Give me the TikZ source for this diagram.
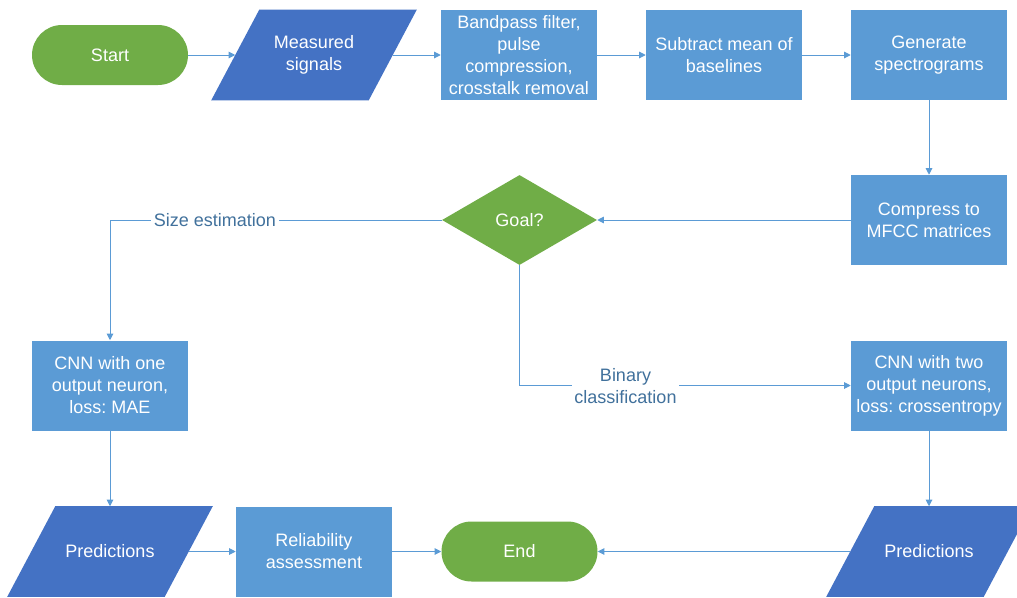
\documentclass[tikz,border=0pt]{standalone}
\usepackage{fontspec}
\setmainfont{Liberation Sans}
\usetikzlibrary{shapes.geometric,arrows.meta,backgrounds}
\definecolor{cgreen}{HTML}{70AD47}
\definecolor{cdblue}{HTML}{4472C4}
\definecolor{clblue}{HTML}{5B9BD5}
\definecolor{clabel}{HTML}{41719C}
\frenchspacing
\begin{document}
\begin{tikzpicture}[x=0.75pt,y=-0.75pt,
 every node/.style={font=\fontsize{13.5}{16.5}\selectfont, text=white, align=center, inner sep=0pt},
 box/.style={rectangle, fill=clblue, minimum width=117pt, minimum height=67.5pt},
 term/.style={rectangle, rounded corners=22.5pt, fill=cgreen, minimum width=117pt, minimum height=45pt},
 para/.style={rectangle, minimum width=117.75pt, minimum height=67.5pt},
 dec/.style={diamond, fill=cgreen, minimum width=116.25pt, minimum height=67.5pt},
 conn/.style={draw=clblue, line width=0.75pt, -{Triangle[length=5pt,width=5pt]}},
 lbl/.style={text=clabel, fill=white, inner sep=2pt}]
\useasboundingbox (0,0) rectangle (1017,597);
\clip (0,0) rectangle (1017,597);
\node[term] (start) at (110,55) {Start};
\node[para] (meas) at (314,55) {Measured\\signals};
\node[box] (band) at (519,55) {Bandpass filter,\\pulse\\compression,\\crosstalk removal};
\node[box] (sub) at (724,55) {Subtract mean of\\baselines};
\node[box] (gen) at (929,55) {Generate\\spectrograms};
\node[box] (comp) at (929,220) {Compress to\\MFCC matrices};
\node[dec] (goal) at (519.5,220) {Goal?};
\node[box] (cnn1) at (110,385.5) {CNN with one\\output neuron,\\loss: MAE};
\node[box] (cnn2) at (929,385.5) {CNN with two\\output neurons,\\loss: crossentropy};
\node[para] (pred1) at (110,551.5) {Predictions};
\node[box] (rel) at (314,551.5) {Reliability\\assessment};
\node[term] (end) at (519.5,551.5) {End};
\node[para] (pred2) at (929,551.5) {Predictions};
\begin{scope}[on background layer]
\foreach \p in {meas,pred1,pred2}{
 \fill[cdblue] ([xshift=-18pt]\p.south west) -- ([xshift=-18pt]\p.south east)
   -- ([xshift=18pt]\p.north east) -- ([xshift=18pt]\p.north west) -- cycle;
}
\end{scope}
\draw[conn] (start) -- (meas);
\draw[conn] (meas) -- (band);
\draw[conn] (band) -- (sub);
\draw[conn] (sub) -- (gen);
\draw[conn] (gen) -- (comp);
\draw[conn] (comp) -- (goal);
\draw[conn] (goal.west) -| (cnn1.north);
\node[lbl] (lsize) at (215,220) {Size estimation};
\draw[conn] (goal.south) |- (cnn2.west);
\node[lbl] (lbin) at (625.5,386) {Binary\\classification};
\draw[conn] (cnn1) -- (pred1);
\draw[conn] (cnn2) -- (pred2);
\draw[conn] (pred1) -- (rel);
\draw[conn] (rel) -- (end);
\draw[conn] (pred2) -- (end);
\end{tikzpicture}
\end{document}
